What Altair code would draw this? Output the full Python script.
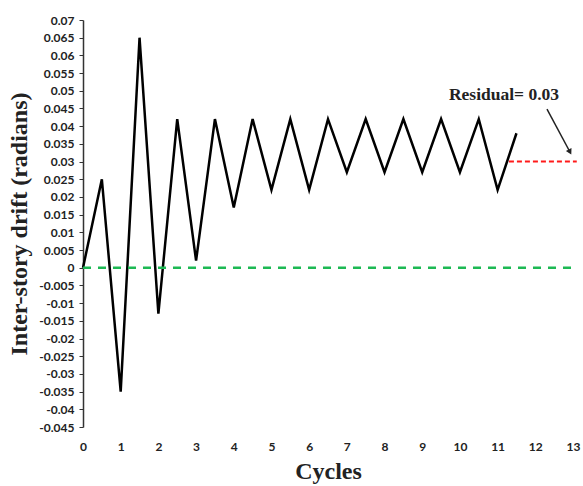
import altair as alt
import pandas as pd

cycles = [0, 0.5, 1, 1.5, 2, 2.5, 3, 3.5, 4, 4.5, 5, 5.5, 6, 6.5, 7, 7.5, 8, 8.5, 9, 9.5, 10, 10.5, 11, 11.5]
drift = [0, 0.025, -0.035, 0.065, -0.013, 0.042, 0.002, 0.042, 0.017, 0.042, 0.022, 0.042, 0.022, 0.042,
         0.027, 0.042, 0.027, 0.042, 0.027, 0.042, 0.027, 0.042, 0.022, 0.038]

y_ticks = [-0.045, -0.04, -0.035, -0.03, -0.025, -0.02, -0.015, -0.01, -0.005, 0, 0.005, 0.01, 0.015,
           0.02, 0.025, 0.03, 0.035, 0.04, 0.045, 0.05, 0.055, 0.06, 0.065, 0.07]
x_ticks = list(range(0, 14))

zero_x = [0, 13]
zero_y = [0, 0]
resid_x = [11.3, 13.1]
resid_y = [0.03, 0.03]
arrow_x = [12.31, 12.92]
arrow_y = [0.0448, 0.0327]
label_x = [11.17]
label_y = [0.0488]
label_text = ["Residual= 0.03"]

xs = alt.Scale(domain=[0, 13], nice=False, zero=False)
ys = alt.Scale(domain=[-0.045, 0.07], nice=False, zero=False)

df = pd.DataFrame({"x": cycles, "y": drift})

x_enc = alt.X("x:Q", scale=xs, axis=alt.Axis(
    values=x_ticks, tickCount=50, labelExpr="'' + datum.value", title="Cycles", domain=False, ticks=False, grid=False,
    labelFont="Lato", labelFontWeight="bold", labelFontSize=12, labelColor="#222",
    labelPadding=14, titleFont="Liberation Serif", titleFontSize=24, titleFontWeight="bold",
    titleColor="#222", titlePadding=7, labelFlush=False, labelOverlap=False))
y_enc = alt.Y("y:Q", scale=ys, axis=alt.Axis(
    values=y_ticks, tickCount=50, labelExpr="'' + datum.value", title="Inter-story drift (radians)",
    domain=True, domainColor="#333", domainWidth=1.5, ticks=True, tickSize=4, tickColor="#333",
    grid=False, labelFont="Lato", labelFontWeight="bold", labelFontSize=12, labelColor="#222",
    labelPadding=5, titleFont="Liberation Serif", titleFontSize=24, titleFontWeight="bold",
    titleColor="#222", titlePadding=7, labelFlush=False, labelOverlap=False))

main = alt.Chart(df).mark_line(color="black", strokeWidth=2.5, clip=False).encode(x=x_enc, y=y_enc)

xo = alt.X("x:Q", scale=xs)
yo = alt.Y("y:Q", scale=ys)

zero = alt.Chart(pd.DataFrame({"x": zero_x, "y": zero_y})).mark_line(
    color="#1db954", strokeWidth=2.5, strokeDash=[8, 7], clip=False).encode(x=xo, y=yo)

resid = alt.Chart(pd.DataFrame({"x": resid_x, "y": resid_y})).mark_line(
    color="#ff1a1a", strokeWidth=2, strokeDash=[5, 3], clip=False).encode(x=xo, y=yo)

arrow_df = pd.DataFrame({"x": [arrow_x[0]], "x2": [arrow_x[1]], "y": [arrow_y[0]], "y2": [arrow_y[1]]})
arrow = alt.Chart(arrow_df).mark_rule(color="#222", strokeWidth=1.5, clip=False).encode(
    x=xo, x2="x2:Q", y=yo, y2="y2:Q")
head = alt.Chart(pd.DataFrame({"x": [arrow_x[1]], "y": [arrow_y[1]]})).mark_point(
    shape="triangle-up", angle=152, size=40, filled=True, color="#222", opacity=1, clip=False).encode(
    x=xo, y=yo)

label = alt.Chart(pd.DataFrame({"x": label_x, "y": label_y, "t": label_text})).mark_text(
    font="Liberation Serif", fontSize=17.5, fontWeight="bold", color="#222", align="center", baseline="middle").encode(
    x=xo, y=yo, text="t:N")

chart = alt.layer(main, zero, resid, arrow, head, label).properties(
    width=490, height=407,
    background="white",
    autosize=alt.AutoSizeParams(type="none"),
    padding={"left": 83, "top": 20, "right": 10, "bottom": 59},
).configure_view(stroke=None)

chart.save("out.html", embed_options={"renderer": "svg", "actions": False})
